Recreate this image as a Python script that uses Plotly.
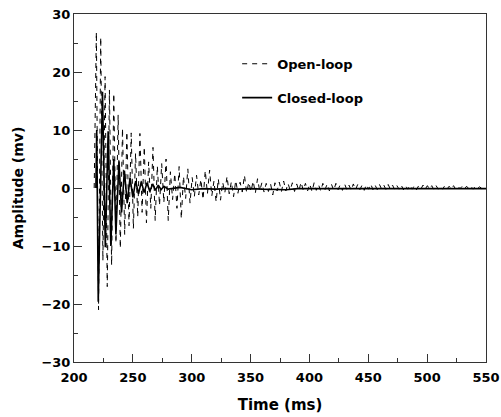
import numpy as np
import plotly.graph_objects as go

# ---------------- data ----------------
# Open-loop: successive extrema of the oscillation, sampled every open_step ms from open_t0
open_t0 = 217.15
open_step = 1.85
open_amp = [
    0.0, 26.9, -21.0, 26.0, -12.5, 19.2, -17.0, 16.9, -13.3, 16.3,
    -9.5, 12.6, -10.4, 10.3, -8.0, 9.7, -6.5, 9.5, -7.0, 6.0,
    -5.0, 9.4, -4.2, 7.1, -6.0, 4.5, -3.5, 7.0, -5.6, 3.8,
    -3.0, 4.2, -2.5, 5.0, -5.6, 2.8, -2.0, 2.5, -3.5, 3.7,
    -5.3, 2.0, -1.8, 3.3, -2.6, 1.8, -1.5, 2.2, -1.2, 1.5,
    -2.0, 3.0, -1.0, 3.1, -1.4, 1.2, -2.4, 1.6, -2.1, 1.0,
    -0.8, 2.0, -1.0, 1.1, -1.5, 1.3, -0.9, 1.0, -0.7, 2.2,
    -0.8, 1.0, -0.6, 1.2, -0.9, 1.6, -0.5, 0.9, -0.7, 0.8,
    -0.6, 0.7, -1.2, 0.9, -0.5, 1.0, -0.6, 1.2, -0.5, 0.8,
    -0.4, 0.9, -0.6, 0.7, -0.5, 1.0, -0.4, 0.8, -0.5, 0.7,
    -0.6, 0.9, -0.4, 0.6, -0.5, 0.8, -0.3, 0.7, -0.5, 0.6,
    -0.4, 0.8, -0.3, 0.6, -0.4, 0.7, -0.3, 0.5, -0.4, 0.7,
    -0.3, 0.6, -0.3, 0.5, -0.4, 0.6, -0.2, 0.7, -0.3, 0.5,
    -0.3, 0.6, -0.2, 0.5, -0.3, 0.6, -0.2, 0.5, -0.3, 0.4,
    -0.2, 0.5, -0.3, 0.4, -0.2, 0.5, -0.2, 0.4, -0.3, 0.4,
    -0.2, 0.5, -0.2, 0.4, -0.2, 0.4, -0.3, 0.4, -0.2, 0.3,
    -0.2, 0.4, -0.2, 0.3, -0.2, 0.4, -0.2, 0.3, -0.1, 0.3,
    -0.2, 0.3, -0.1, 0.3, -0.2, 0.3, -0.1, 0.2, -0.1, 0.2,
]

# Closed-loop: extrema times (ms) and amplitudes (mV)
closed_t = [
    218.6, 219.3, 220.6, 224.2, 226.6, 229.0, 231.3, 233.8, 235.6, 238.2,
    240.4, 242.8, 245.2, 247.6, 250.0, 252.4, 254.8, 257.2, 259.6, 262.0,
    264.4, 266.8, 269.2, 271.6, 274.0, 276.4, 280.0, 290.0, 300.0, 310.0,
    320.0, 330.0, 340.0, 350.0, 360.0, 370.0, 380.0, 390.0, 400.0, 420.0,
    440.0, 460.0, 480.0, 500.0, 520.0, 540.0, 550.0,
]
closed_amp = [
    0.0, 10.0, -19.6, 16.6, -10.2, 9.8, -10.0, 5.0, -8.0, 4.6,
    -4.2, 3.0, -2.6, 1.8, -1.6, 1.2, -1.0, 1.1, -0.8, 0.9,
    -0.6, 0.7, -0.4, 0.5, -0.3, 0.3, -0.2, 0.1, -0.3, -0.1,
    -0.2, -0.1, -0.2, -0.1, -0.2, -0.2, -0.3, -0.1, -0.1, 0.0,
    -0.1, 0.0, -0.1, 0.0, 0.0, -0.1, -0.1,
]

open_t = open_t0 + open_step * np.arange(len(open_amp))

FONT = "DejaVu Sans"

fig = go.Figure()
fig.add_trace(go.Scatter(
    x=open_t, y=open_amp, mode="lines", name="Open-loop",
    line=dict(color="black", width=1, dash="5px,5px"),
    legendgroup="a",
))
fig.add_trace(go.Scatter(
    x=closed_t, y=closed_amp, mode="lines", name="Closed-loop",
    line=dict(color="black", width=1.6),
    legendgroup="b",
))

axis_common = dict(
    showline=True, linecolor="#333", linewidth=1, mirror=True,
    showgrid=False, zeroline=False, automargin=False,
    ticks="inside", ticklen=8, tickwidth=1, tickcolor="#333",
    tickfont=dict(family=FONT, size=13, color="black", weight="bold"),
)

fig.update_xaxes(
    range=[200, 550], dtick=50, tick0=200, ticklabelstandoff=3,
    minor=dict(ticks="inside", ticklen=4, dtick=25, tickcolor="#333"),
    title=dict(text="Time (ms)", font=dict(family=FONT, size=15, color="black", weight="bold"), standoff=15),
    **axis_common,
)
fig.update_yaxes(
    range=[-30, 30], dtick=10, tick0=-30,
    minor=dict(ticks="inside", ticklen=4, dtick=5, tickcolor="#333"),
    title=dict(text="Amplitude (mv)", font=dict(family=FONT, size=14, color="black", weight="bold"), standoff=14),
    **axis_common,
)

fig.update_layout(
    width=501, height=417,
    margin=dict(l=74, r=15, t=14, b=55),
    paper_bgcolor="white", plot_bgcolor="white",
    showlegend=True,
    legend=dict(
        x=0.396, y=0.90, xanchor="left", yanchor="top",
        bgcolor="rgba(0,0,0,0)", borderwidth=0,
        font=dict(family=FONT, size=13, color="black", weight="bold"),
        tracegroupgap=14, traceorder="grouped",
    ),
)

fig.write_html(
    "out.html",
    config={"displayModeBar": False},
    post_script="document.body.style.margin='0';",
)
